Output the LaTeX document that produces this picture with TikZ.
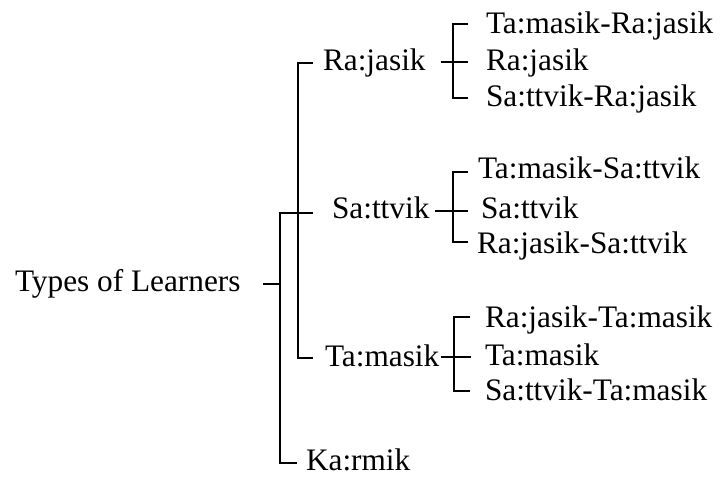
\documentclass[tikz,border=0pt]{standalone}
\usepackage{fontspec}
\setmainfont{Liberation Serif}
\begin{document}
\begin{tikzpicture}[x=1pt,y=-1pt,
  lbl/.style={anchor=base west,inner sep=0pt,outer sep=0pt,font=\fontsize{31.3}{36}\selectfont},
  br/.style={line width=1.6pt,line cap=butt,line join=miter}]
\useasboundingbox (0,0) rectangle (720,479);
% text nodes
\node[lbl] (root) at (15,291) {Types of Learners};
\node[lbl] (raj) at (323,70) {Ra:jasik};
\node[lbl] (sat) at (332,218) {Sa:ttvik};
\node[lbl] (tam) at (325,366) {Ta:masik};
\node[lbl] (kar) at (306,470) {Ka:rmik};
\node[lbl] (r1) at (486,33) {Ta:masik-Ra:jasik};
\node[lbl] (r2) at (486,70) {Ra:jasik};
\node[lbl] (r3) at (486,106) {Sa:ttvik-Ra:jasik};
\node[lbl] (s1) at (478,178) {Ta:masik-Sa:ttvik};
\node[lbl] (s2) at (481,218) {Sa:ttvik};
\node[lbl] (s3) at (477,253) {Ra:jasik-Sa:ttvik};
\node[lbl] (t1) at (485,327) {Ra:jasik-Ta:masik};
\node[lbl] (t2) at (485,365) {Ta:masik};
\node[lbl] (t3) at (485,400) {Sa:ttvik-Ta:masik};
% junction coordinates
\coordinate (rootE) at (263,284);
\coordinate (mainV) at (280,284);
\coordinate (subV) at (298,0);
\coordinate (satE) at (313,213);
\coordinate (karE) at (297,463);
\coordinate (rajE) at (313,63);
\coordinate (tamE) at (313,358);
% root bracket
\draw[br] (rootE) -- (mainV);
\draw[br] (karE) -- (280,463) -- (280,213) -- (satE);
\draw[br] (rajE) -- (298,63) -- (298,358) -- (tamE);
% Ra:jasik group
\draw[br] (441,62) -- (453,62);
\draw[br] (468,24) -- (453,24) -- (453,98) -- (468,98);
\draw[br] (453,62) -- (468,62);
% Sa:ttvik group
\draw[br] (435,211) -- (468,211);
\draw[br] (468,172) -- (453,172) -- (453,242) -- (468,242);
% Ta:masik group
\draw[br] (441,357) -- (471,357);
\draw[br] (470,317) -- (454,317) -- (454,391) -- (470,391);
\end{tikzpicture}
\end{document}
